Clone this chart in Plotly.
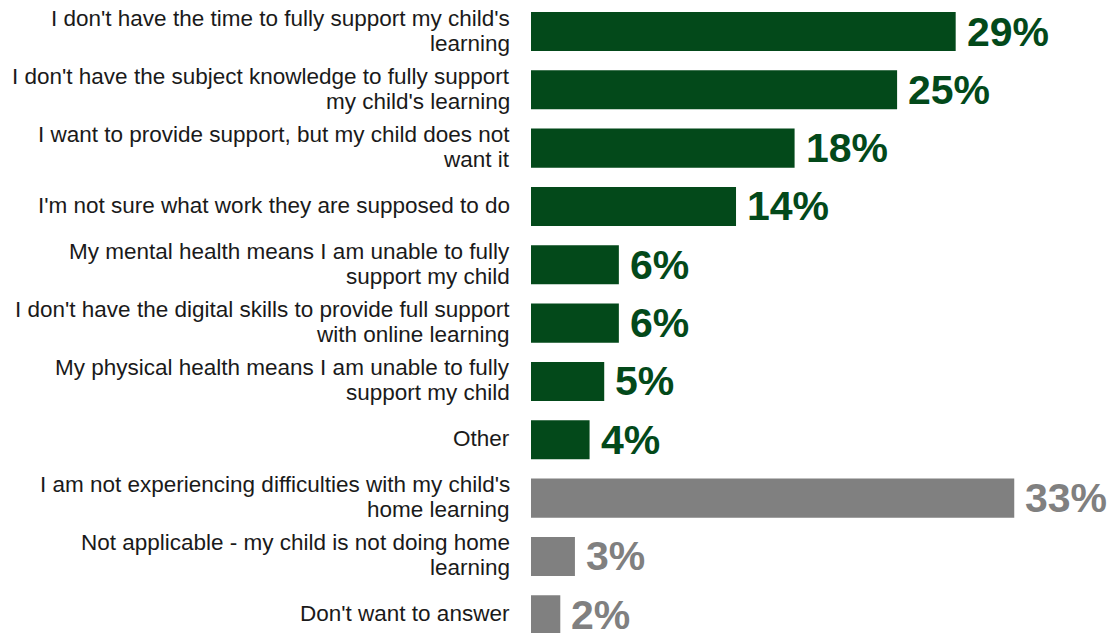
import plotly.graph_objects as go

categories = [
    "I don't have the time to fully support my child's<br>learning",
    "I don't have the subject knowledge to fully support<br>my child's learning",
    "I want to provide support, but my child does not<br>want it",
    "I'm not sure what work they are supposed to do",
    "My mental health means I am unable to fully<br>support my child",
    "I don't have the digital skills to provide full support<br>with online learning",
    "My physical health means I am unable to fully<br>support my child",
    "Other",
    "I am not experiencing difficulties with my child's<br>home learning",
    "Not applicable - my child is not doing home<br>learning",
    "Don't want to answer",
]
values = [29, 25, 18, 14, 6, 6, 5, 4, 33, 3, 2]
groups = ["d"] * 8 + ["o"] * 3

GREEN = "#03491a"
GREY = "#808080"
colors = [GREEN if g == "d" else GREY for g in groups]
positions = list(range(len(categories)))

fig = go.Figure()
fig.add_trace(go.Bar(
    x=values, y=positions, orientation="h",
    marker=dict(color=colors, line=dict(width=0)),
    width=0.67, hoverinfo="skip",
))

FONT = "Liberation Sans, Arial, sans-serif"
LINE_H = 25
annotations = []
for i, (cat, v, c) in enumerate(zip(categories, values, colors)):
    lines = cat.split("<br>")
    n = len(lines)
    for k, line in enumerate(lines):
        annotations.append(dict(
            x=0, y=i, xref="x", yref="y", text=line, showarrow=False,
            xanchor="right", yanchor="middle", xshift=-19,
            yshift=-(k - (n - 1) / 2) * LINE_H + 1,
            font=dict(family=FONT, size=22.5, color="#1a1a1a"),
        ))
    annotations.append(dict(
        x=v, y=i, xref="x", yref="y", text=f"<b>{v}%</b>", showarrow=False,
        xanchor="left", yanchor="middle", xshift=9,
        font=dict(family=FONT, size=41, color=c),
    ))

fig.update_layout(
    width=1109, height=633,
    margin=dict(l=531, r=0, t=0, b=0),
    paper_bgcolor="white", plot_bgcolor="white",
    showlegend=False,
    xaxis=dict(range=[0, 39.47], visible=False, fixedrange=True),
    yaxis=dict(range=[10.312, -0.54], visible=False, fixedrange=True),
    annotations=annotations,
)

fig.write_html("out.html", config={"displayModeBar": False},
               post_script="document.body.style.margin='0';")
